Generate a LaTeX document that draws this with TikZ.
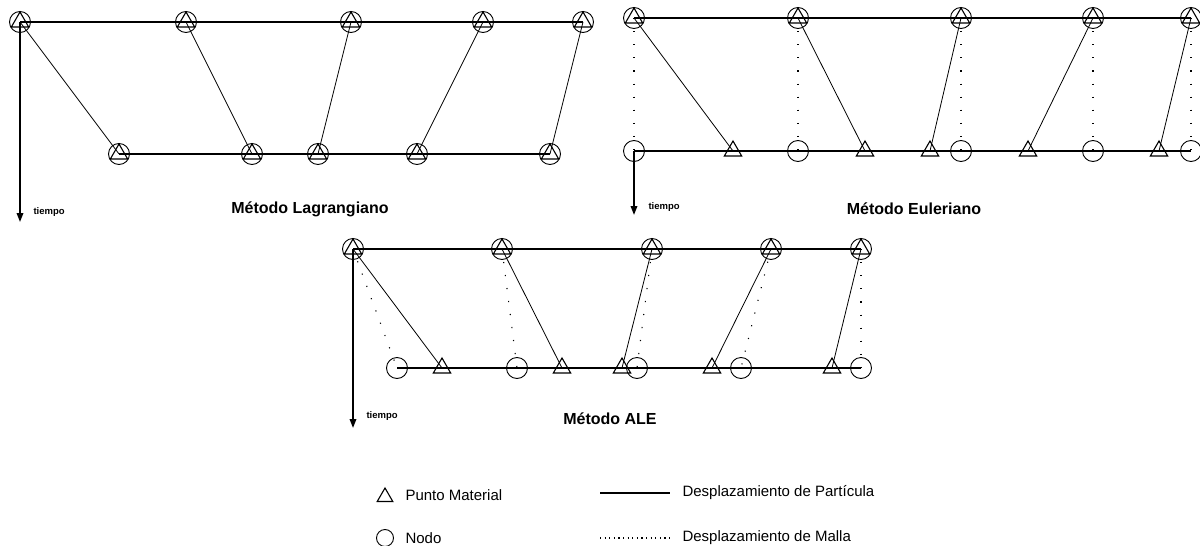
\documentclass[tikz,border=0pt]{standalone}
\usepackage{fontspec}
\setmainfont{Liberation Sans}
\usepackage{tikz}
\usetikzlibrary{shapes.geometric, arrows.meta}

\begin{document}
\begin{tikzpicture}[
        x=1pt, y=-1pt,
        nodo/.style={
            circle, draw=black, line width=0.9pt,
            minimum size=21pt, inner sep=0pt
        },
        punto/.style={
            regular polygon, regular polygon sides=3,
            draw=black, line width=1.1pt,
            minimum size=20pt, inner sep=0pt
        },
        linea/.style={line width=2.2pt, black},
        part/.style={line width=0.8pt, black},
        malla/.style={line width=1.1pt, black, dash pattern=on 1.1pt off 12pt},
        flecha/.style={-{Triangle[length=9pt,width=6.5pt]}, line width=1.8pt, black},
        tiempo/.style={font=\fontsize{9.5}{11}\selectfont\bfseries, anchor=west},
        titulo/.style={font=\fontsize{16}{19}\selectfont\bfseries},
        leyenda/.style={font=\fontsize{15}{18}\selectfont, anchor=west}
    ]
    \useasboundingbox (0,0) rectangle (1200,546);

    % Metodo Lagrangiano
    \node[nodo] (lt1) at (20,22) {};   \node[punto] (lt1p) at (lt1) {};
    \node[nodo] (lt2) at (186,22) {};  \node[punto] (lt2p) at (lt2) {};
    \node[nodo] (lt3) at (351,22) {};  \node[punto] (lt3p) at (lt3) {};
    \node[nodo] (lt4) at (483,22) {};  \node[punto] (lt4p) at (lt4) {};
    \node[nodo] (lt5) at (583,22) {};  \node[punto] (lt5p) at (lt5) {};

    \node[nodo] (lb1) at (119,154) {}; \node[punto] (lb1p) at (lb1) {};
    \node[nodo] (lb2) at (252,154) {}; \node[punto] (lb2p) at (lb2) {};
    \node[nodo] (lb3) at (318,154) {}; \node[punto] (lb3p) at (lb3) {};
    \node[nodo] (lb4) at (417,154) {}; \node[punto] (lb4p) at (lb4) {};
    \node[nodo] (lb5) at (550,154) {}; \node[punto] (lb5p) at (lb5) {};

    \draw[linea] (lt1.center) -- (lt5.center);
    \draw[linea] (lb1.center) -- (lb5.center);
    \draw[part] (lt1.center) -- (lb1.center);
    \draw[part] (lt2.center) -- (lb2.center);
    \draw[part] (lt3.center) -- (lb3.center);
    \draw[part] (lt4.center) -- (lb4.center);
    \draw[part] (lt5.center) -- (lb5.center);

    \coordinate (lfin) at (20,222);
    \draw[flecha] (lt1.center) -- (lfin);
    \node[tiempo] (ltiempo) at (30,212) {tiempo};
    \node[titulo] (tlag) at (310,209) {Método Lagrangiano};

    % Metodo Euleriano
    \node[nodo] (et1) at (634,18) {};  \node[punto] (et1p) at (et1) {};
    \node[nodo] (et2) at (798,18) {};  \node[punto] (et2p) at (et2) {};
    \node[nodo] (et3) at (961,18) {};  \node[punto] (et3p) at (et3) {};
    \node[nodo] (et4) at (1093,18) {}; \node[punto] (et4p) at (et4) {};
    \node[nodo] (et5) at (1191,18) {}; \node[punto] (et5p) at (et5) {};

    \node[nodo] (ec1) at (634,151) {};
    \node[nodo] (ec2) at (798,151) {};
    \node[nodo] (ec3) at (961,151) {};
    \node[nodo] (ec4) at (1093,151) {};
    \node[nodo] (ec5) at (1191,151) {};

    \node[punto] (ep1) at (733,151) {};
    \node[punto] (ep2) at (865,151) {};
    \node[punto] (ep3) at (930,151) {};
    \node[punto] (ep4) at (1028,151) {};
    \node[punto] (ep5) at (1159,151) {};

    \draw[linea] (et1.center) -- (et5.center);
    \draw[linea] (ec1.center) -- (ec5.center);
    \draw[part] (et1.center) -- (ep1.center);
    \draw[part] (et2.center) -- (ep2.center);
    \draw[part] (et3.center) -- (ep3.center);
    \draw[part] (et4.center) -- (ep4.center);
    \draw[part] (et5.center) -- (ep5.center);
    \draw[malla] (et1.center) -- (ec1.center);
    \draw[malla] (et2.center) -- (ec2.center);
    \draw[malla] (et3.center) -- (ec3.center);
    \draw[malla] (et4.center) -- (ec4.center);
    \draw[malla] (et5.center) -- (ec5.center);

    \coordinate (efin) at (634,215);
    \draw[flecha] (ec1.center) -- (efin);
    \node[tiempo] (etiempo) at (645,207) {tiempo};
    \node[titulo] (teul) at (914,209) {Método Euleriano};

    % Metodo ALE
    \node[nodo] (at1) at (353,249) {}; \node[punto] (at1p) at (at1) {};
    \node[nodo] (at2) at (502,249) {}; \node[punto] (at2p) at (at2) {};
    \node[nodo] (at3) at (652,249) {}; \node[punto] (at3p) at (at3) {};
    \node[nodo] (at4) at (771,249) {}; \node[punto] (at4p) at (at4) {};
    \node[nodo] (at5) at (861,249) {}; \node[punto] (at5p) at (at5) {};

    \node[nodo] (ac1) at (397,368) {};
    \node[nodo] (ac2) at (517,368) {};
    \node[nodo] (ac3) at (637,368) {};
    \node[nodo] (ac4) at (741,368) {};
    \node[nodo] (ac5) at (861,368) {};

    \node[punto] (ap1) at (442,368) {};
    \node[punto] (ap2) at (562,368) {};
    \node[punto] (ap3) at (622,368) {};
    \node[punto] (ap4) at (712,368) {};
    \node[punto] (ap5) at (832,368) {};

    \draw[linea] (at1.center) -- (at5.center);
    \draw[linea] (ac1.center) -- (ac5.center);
    \draw[part] (at1.center) -- (ap1.center);
    \draw[part] (at2.center) -- (ap2.center);
    \draw[part] (at3.center) -- (ap3.center);
    \draw[part] (at4.center) -- (ap4.center);
    \draw[part] (at5.center) -- (ap5.center);
    \draw[malla] (at1.center) -- (ac1.center);
    \draw[malla] (at2.center) -- (ac2.center);
    \draw[malla] (at3.center) -- (ac3.center);
    \draw[malla] (at4.center) -- (ac4.center);
    \draw[malla] (at5.center) -- (ac5.center);

    \coordinate (afin) at (353,428);
    \draw[flecha] (at1.center) -- (afin);
    \node[tiempo] (atiempo) at (363,416) {tiempo};
    \node[titulo] (tale) at (610,419) {Método ALE};

    % Leyenda
    \node[punto, minimum size=18pt] (gpunto) at (385,497) {};
    \node[leyenda] (gtpunto) at (402,495) {Punto Material};
    \node[nodo, minimum size=17pt] (gnodo) at (385,538) {};
    \node[leyenda] (gtnodo) at (402,538) {Nodo};

    \coordinate (gpa) at (600,493);
    \coordinate (gpb) at (670,493);
    \draw[line width=1.3pt] (gpa) -- (gpb);
    \node[leyenda] (gtpart) at (679,493) {Desplazamiento de Partícula};
    \coordinate (gma) at (600,538);
    \coordinate (gmb) at (670,538);
    \draw[line width=1.1pt, dash pattern=on 1.1pt off 3.5pt] (gma) -- (gmb);
    \node[leyenda] (gtmalla) at (679,538) {Desplazamiento de Malla};

\end{tikzpicture}
\end{document}
